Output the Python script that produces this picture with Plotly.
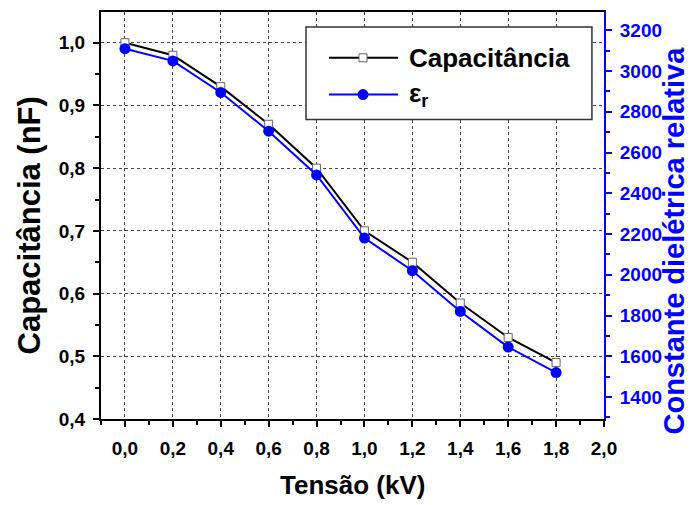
import plotly.graph_objects as go

# Measured data
tensao_kv = [0.0, 0.2, 0.4, 0.6, 0.8, 1.0, 1.2, 1.4, 1.6, 1.8]
capacitancia_nf = [1.00, 0.98, 0.93, 0.87, 0.80, 0.70, 0.65, 0.585, 0.53, 0.49]
eps_r = [3110, 3050, 2895, 2705, 2490, 2180, 2020, 1820, 1645, 1520]

FONT = "Liberation Sans"
BLUE = "#0000ff"

fig = go.Figure()

fig.add_trace(go.Scatter(
    x=tensao_kv, y=capacitancia_nf, name="Capacitância",
    mode="lines+markers",
    line=dict(color="black", width=2),
    marker=dict(symbol="square", size=8, color="white",
                line=dict(color="#666666", width=1)),
    showlegend=False, yaxis="y",
))
fig.add_trace(go.Scatter(
    x=tensao_kv, y=eps_r, name="εr",
    mode="lines+markers",
    line=dict(color=BLUE, width=2),
    marker=dict(symbol="circle", size=11, color=BLUE),
    showlegend=False, yaxis="y2",
))

tick_font = dict(family=FONT, size=19, color="black", weight="bold")

fig.update_layout(
    width=690, height=505,
    margin=dict(l=101, r=86, t=10, b=86),
    paper_bgcolor="white", plot_bgcolor="white",
    separators=",.",
    xaxis=dict(
        range=[-0.1, 2.0], tick0=0, dtick=0.2, tickformat=".1f",
        showline=True, linecolor="black", linewidth=2, mirror=True,
        ticks="outside", ticklen=6, tickwidth=2, tickcolor="black",
        ticklabelstandoff=5,
        minor=dict(dtick=0.1, tick0=0, ticks="outside", ticklen=4,
                   tickwidth=1.5, tickcolor="black", showgrid=False),
        showgrid=True, gridcolor="#444444", gridwidth=1, griddash="3px,3px",
        zeroline=False, tickfont=tick_font,
    ),
    yaxis=dict(
        range=[0.4, 1.049], tick0=0.4, dtick=0.1, tickformat=".1f",
        showline=True, linecolor="black", linewidth=2, mirror=False,
        ticks="outside", ticklen=6, tickwidth=2, tickcolor="black",
        ticklabelstandoff=4,
        minor=dict(dtick=0.05, tick0=0.4, ticks="outside", ticklen=4,
                   tickwidth=1.5, tickcolor="black", showgrid=False),
        showgrid=True, gridcolor="#444444", gridwidth=1, griddash="3px,3px",
        zeroline=False, tickfont=tick_font,
    ),
    yaxis2=dict(
        overlaying="y", side="right",
        range=[1292, 3290], tick0=0, dtick=200,
        showline=True, linecolor=BLUE, linewidth=2,
        ticks="outside", ticklen=6, tickwidth=2, tickcolor=BLUE,
        ticklabelstandoff=4,
        minor=dict(dtick=100, ticks="outside", ticklen=4,
                   tickwidth=1.5, tickcolor=BLUE, showgrid=False),
        showgrid=False, zeroline=False,
        tickfont=dict(family=FONT, size=19, color=BLUE, weight="bold"),
    ),
)

# Axis titles
fig.add_annotation(text="Capacitância (nF)", xref="paper", yref="paper",
                   x=0, y=0.5, xanchor="center", yanchor="middle",
                   xshift=-72, yshift=-10, textangle=-90, showarrow=False,
                   font=dict(family=FONT, size=31, color="black", weight="bold"))
fig.add_annotation(text="Constante dielétrica relativa", xref="paper", yref="paper",
                   x=1, y=0.5, xanchor="center", yanchor="middle",
                   xshift=69, yshift=-25, textangle=-90, showarrow=False,
                   font=dict(family=FONT, size=29, color=BLUE, weight="bold"))
fig.add_annotation(text="Tensão (kV)", xref="paper", yref="paper",
                   x=0.5, y=0, xanchor="center", yanchor="middle",
                   yshift=-66, showarrow=False,
                   font=dict(family=FONT, size=26, color="black", weight="bold"))

# Legend box
fig.add_shape(type="rect", xref="paper", yref="paper",
              x0=0.4076, x1=0.976, y0=0.736, y1=0.963,
              line=dict(color="#333333", width=1.5), fillcolor="white", layer="above")

legend_rows = [
    dict(y=0.8875, color="black", text="Capacitância", symbol="square"),
    dict(y=0.7971, color=BLUE, text="ε<sub>r</sub>", symbol="circle"),
]
lx0, lx1, lxm = 0.4532, 0.5905, 0.5209
for row in legend_rows:
    fig.add_shape(type="line", xref="paper", yref="paper",
                  x0=lx0, x1=lx1, y0=row["y"], y1=row["y"],
                  line=dict(color=row["color"], width=2), layer="above")
    if row["symbol"] == "square":
        fig.add_shape(type="rect", xref="paper", yref="paper",
                      xsizemode="pixel", ysizemode="pixel",
                      xanchor=lxm, yanchor=row["y"],
                      x0=-4, x1=4, y0=-4, y1=4,
                      line=dict(color="#666666", width=1), fillcolor="white",
                      layer="above")
    else:
        fig.add_shape(type="circle", xref="paper", yref="paper",
                      xsizemode="pixel", ysizemode="pixel",
                      xanchor=lxm, yanchor=row["y"],
                      x0=-5.5, x1=5.5, y0=-5.5, y1=5.5,
                      line=dict(color=BLUE, width=0), fillcolor=BLUE,
                      layer="above")
    fig.add_annotation(text=row["text"], xref="paper", yref="paper",
                       x=0.6083, y=row["y"], xanchor="left", yanchor="middle",
                       showarrow=False,
                       font=dict(family=FONT, size=26, color="black", weight="bold"))

fig.write_html("out.html")
